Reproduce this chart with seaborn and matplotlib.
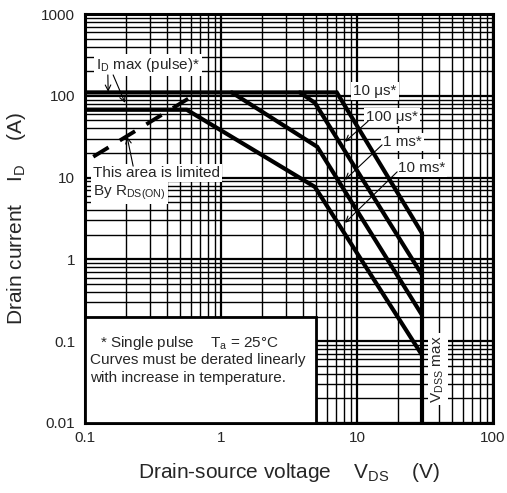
import numpy as np
import pandas as pd
import matplotlib
matplotlib.use("Agg")
import matplotlib.pyplot as plt
import seaborn as sns
from matplotlib.ticker import FixedLocator, FixedFormatter, LogLocator, NullFormatter
from matplotlib.patches import Rectangle

# ---------------- data ----------------
v_10us = [0.1, 7.1, 30.0]
i_10us = [110, 110, 2.1]
v_100us = [3.8, 4.9, 30.0]
i_100us = [110, 82, 0.65]
v_1ms = [1.2, 5.1, 30.0]
i_1ms = [110, 23.8, 0.21]
v_10ms = [0.1, 0.56, 4.9, 30.0]
i_10ms = [67.5, 67.5, 7.7, 0.068]
v_vdss = [30.0, 30.0]
i_vdss = [2.1, 0.01]
v_rds = [0.115, 0.64]
i_rds = [18, 103]

x_ticks = [0.1, 1, 10, 100]
x_labels = ["0.1", "1", "10", "100"]
y_ticks = [0.01, 0.1, 1, 10, 100, 1000]
y_labels = ["0.01", "0.1", "1", "10", "100", "1000"]

# ---------------- style ----------------
sns.set_style("white")
plt.rcParams["font.family"] = ["Liberation Sans", "DejaVu Sans"]
plt.rcParams["mathtext.fontset"] = "custom"
plt.rcParams["mathtext.rm"] = "Liberation Sans"
plt.rcParams["mathtext.it"] = "Liberation Sans:italic"

fig = plt.figure(figsize=(5.07, 4.93), dpi=100)
ax = fig.add_axes([85 / 507, 1 - 423 / 493, 408 / 507, 409 / 493])
ax.set_xscale("log")
ax.set_yscale("log")
ax.set_xlim(0.1, 100)
ax.set_ylim(0.01, 1000)

curves = pd.concat([
    pd.DataFrame({"V": v_10us, "I": i_10us, "curve": "10us"}),
    pd.DataFrame({"V": v_100us, "I": i_100us, "curve": "100us"}),
    pd.DataFrame({"V": v_1ms, "I": i_1ms, "curve": "1ms"}),
    pd.DataFrame({"V": v_10ms, "I": i_10ms, "curve": "10ms"}),
    pd.DataFrame({"V": v_vdss, "I": i_vdss, "curve": "vdss"}),
])
for name, g in curves.groupby("curve", sort=False):
    sns.lineplot(data=g, x="V", y="I", ax=ax, color="black", lw=3.0,
                 sort=False, estimator=None, zorder=4,
                 solid_joinstyle="miter")

rds = pd.DataFrame({"V": v_rds, "I": i_rds})
sns.lineplot(data=rds, x="V", y="I", ax=ax, color="black", lw=2.8,
             sort=False, estimator=None, zorder=4,
             linestyle=(0, (4.6, 3.4)), dash_capstyle="butt")

# ---------------- axes / grid ----------------
ax.xaxis.set_major_locator(FixedLocator(x_ticks))
ax.xaxis.set_major_formatter(FixedFormatter(x_labels))
ax.yaxis.set_major_locator(FixedLocator(y_ticks))
ax.yaxis.set_major_formatter(FixedFormatter(y_labels))
ax.xaxis.set_minor_locator(LogLocator(base=10, subs=np.arange(2, 10), numticks=50))
ax.yaxis.set_minor_locator(LogLocator(base=10, subs=np.arange(2, 10), numticks=50))
ax.xaxis.set_minor_formatter(NullFormatter())
ax.yaxis.set_minor_formatter(NullFormatter())
ax.grid(which="major", color="black", lw=1.6)
ax.grid(which="minor", color="black", lw=1.0)
ax.tick_params(which="both", length=0)
ax.tick_params(axis="x", labelsize=11, pad=6)
ax.tick_params(axis="y", labelsize=11, pad=7)
for s in ax.spines.values():
    s.set_color("black")
    s.set_linewidth(2.2)

ax.set_xlabel(r"Drain-source voltage    V$_\mathregular{DS}$    (V)", fontsize=15)
ax.xaxis.set_label_coords(0.5, -(472 - 423) / 409)
ax.xaxis.label.set_va("center")
ax.set_ylabel(r"Drain current    I$_\mathregular{D}$    (A)", fontsize=15)
ax.yaxis.set_label_coords(-(85 - 17) / 408, 0.5)
ax.yaxis.label.set_va("center")

# ---------------- annotations ----------------
wb = dict(facecolor="white", edgecolor="none", pad=1.5)
fs = 11
arr = dict(arrowstyle="->", lw=0.8, color="black", shrinkA=0, shrinkB=0)

ax.text(0.154, 0.875, r"I$_\mathregular{D}$ max (pulse)*", transform=ax.transAxes,
        ha="center", va="center", fontsize=fs, bbox=wb, zorder=3)
ax.annotate("", xy=(0.148, 112), xycoords="data", xytext=(0.056, 0.851),
            textcoords="axes fraction", arrowprops=arr, zorder=5)
ax.annotate("", xy=(0.197, 82), xycoords="data", xytext=(0.069, 0.851),
            textcoords="axes fraction", arrowprops=arr, zorder=5)

ax.text(0.02, 0.611, "This area is limited", transform=ax.transAxes,
        ha="left", va="center", fontsize=fs, bbox=wb, zorder=3)
ax.text(0.02, 0.563, r"By R$_\mathregular{DS(ON)}$", transform=ax.transAxes,
        ha="left", va="center", fontsize=fs, bbox=wb, zorder=3)
ax.annotate("", xy=(0.204, 31.5), xycoords="data", xytext=(0.118, 0.628),
            textcoords="axes fraction", arrowprops=arr, zorder=5)

ax.text(0.711, 0.812, "10 μs*", transform=ax.transAxes, ha="center", va="center",
        fontsize=fs, bbox=wb, zorder=3)
ax.text(0.752, 0.748, "100 μs*", transform=ax.transAxes, ha="center", va="center",
        fontsize=fs, bbox=wb, zorder=3)
ax.text(0.779, 0.687, "1 ms*", transform=ax.transAxes, ha="center", va="center",
        fontsize=fs, bbox=wb, zorder=3)
ax.text(0.824, 0.623, "10 ms*", transform=ax.transAxes, ha="center", va="center",
        fontsize=fs, bbox=wb, zorder=3)
ax.annotate("", xy=(8.16, 27.4), xycoords="data", xytext=(0.694, 0.738),
            textcoords="axes fraction", arrowprops=arr, zorder=5)
ax.annotate("", xy=(8.16, 9.4), xycoords="data", xytext=(0.728, 0.680),
            textcoords="axes fraction", arrowprops=arr, zorder=5)
ax.annotate("", xy=(8.16, 2.8), xycoords="data", xytext=(0.765, 0.614),
            textcoords="axes fraction", arrowprops=arr, zorder=5)

ax.text(0.865, 0.132, r"V$_\mathregular{DSS}$ max", transform=ax.transAxes,
        ha="center", va="center", rotation=90, fontsize=fs, bbox=wb, zorder=3)

ax.add_patch(Rectangle((0, 0), 0.566, 0.259, transform=ax.transAxes,
                       facecolor="white", edgecolor="black", lw=2.0, zorder=3))
ax.text(0.037, 0.196, r"* Single pulse    T$_\mathregular{a}$ = 25°C",
        transform=ax.transAxes, ha="left", va="center", fontsize=fs, zorder=4)
ax.text(0.012, 0.154, "Curves must be derated linearly",
        transform=ax.transAxes, ha="left", va="center", fontsize=fs, zorder=4)
ax.text(0.012, 0.110, "with increase in temperature.",
        transform=ax.transAxes, ha="left", va="center", fontsize=fs, zorder=4)

fig.savefig("out.png", dpi=100)
